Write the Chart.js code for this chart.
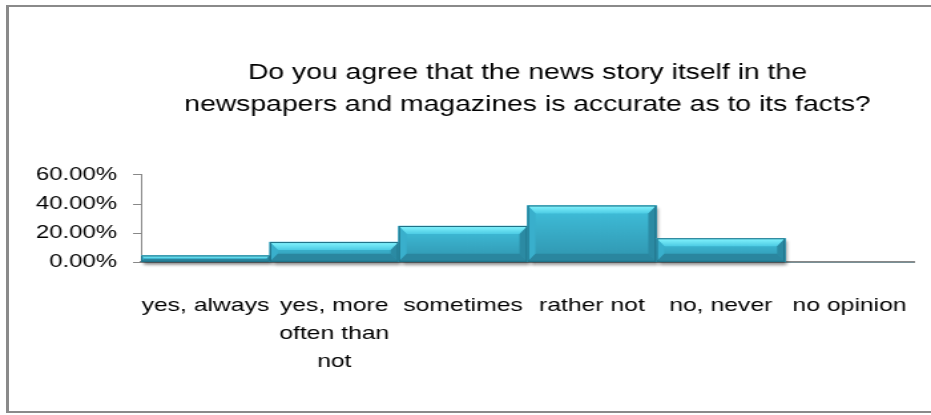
<!DOCTYPE html>
<html>
<head>
<meta charset="utf-8">
<script src="https://cdn.jsdelivr.net/npm/chart.js@4.4.1/dist/chart.umd.min.js"></script>
<style>
    html, body { margin: 0; padding: 0; background: #fff; overflow: hidden; }
    .frame {
        position: absolute;
        left: 6px; top: 5px;
        width: 940px; height: 404px;
        border-left: 3px solid #8a8a8a;
        border-top: 2px solid #8a8a8a;
        border-bottom: 2px solid #8a8a8a;
    }
    /* the chart is laid out narrow and widened to the full page */
    #chart-wrap {
        position: absolute; left: 0; top: 0;
        width: 700px; height: 415px;
        transform: scaleX(1.33); transform-origin: 0 0;
    }
</style>
</head>
<body>
<div class="frame"></div>
<div id="chart-wrap"><canvas id="newsChart" width="700" height="415"></canvas></div>
<script>
const categories = ['yes, always', ['yes, more', 'often than', 'not'], 'sometimes', 'rather not', 'no, never', 'no opinion'];
const percentages = [4.7, 13.9, 24.9, 39.0, 16.5, 0];
const yTicks = [0, 20, 40, 60];
const titleLines = ['Do you agree that the news story itself in the', 'newspapers and magazines is accurate as to its facts?'];

const FONT = '"Liberation Sans", Arial, sans-serif';

// grey drop shadow behind each bar
const barShadow = {
    id: 'barShadow',
    beforeDatasetsDraw(chart) {
        const ctx = chart.ctx;
        ctx.save();
        ctx.shadowColor = 'rgba(0,0,0,0.45)';
        ctx.shadowBlur = 3;
        ctx.shadowOffsetX = 2;
        ctx.shadowOffsetY = 3;
        ctx.fillStyle = '#2f93ad';
        chart.getDatasetMeta(0).data.forEach(bar => {
            const h = bar.base - bar.y;
            if (h <= 0) return;
            ctx.fillRect(bar.x - bar.width / 2, bar.y, bar.width, h);
        });
        ctx.restore();
    }
};

// bevelled edges on top of the flat bar fill
const barBevel = {
    id: 'barBevel',
    afterDatasetsDraw(chart) {
        const ctx = chart.ctx;
        ctx.save();
        chart.getDatasetMeta(0).data.forEach(bar => {
            const l = bar.x - bar.width / 2, r = bar.x + bar.width / 2;
            const t = bar.y, btm = bar.base;
            const h = btm - t;
            if (h <= 0) return;
            const b = Math.min(8, h / 2);
            const bx = b * 0.75;

            const body = ctx.createLinearGradient(0, t, 0, btm);
            body.addColorStop(0, '#40c0dc');
            body.addColorStop(1, '#2f94ae');
            ctx.fillStyle = body;
            ctx.fillRect(l, t, r - l, h);

            const topG = ctx.createLinearGradient(0, t, 0, t + b);
            topG.addColorStop(0, '#86f6ff');
            topG.addColorStop(1, '#4ccbe4');
            ctx.fillStyle = topG;
            ctx.beginPath();
            ctx.moveTo(l, t); ctx.lineTo(r, t); ctx.lineTo(r - bx, t + b); ctx.lineTo(l + bx, t + b);
            ctx.closePath(); ctx.fill();

            ctx.fillStyle = '#39afcc';
            ctx.beginPath();
            ctx.moveTo(l, t); ctx.lineTo(l + bx, t + b); ctx.lineTo(l + bx, btm - b); ctx.lineTo(l, btm);
            ctx.closePath(); ctx.fill();

            ctx.fillStyle = '#2b8aa3';
            ctx.beginPath();
            ctx.moveTo(r, t); ctx.lineTo(r - bx, t + b); ctx.lineTo(r - bx, btm - b); ctx.lineTo(r, btm);
            ctx.closePath(); ctx.fill();

            ctx.fillStyle = '#2a869f';
            ctx.beginPath();
            ctx.moveTo(l, btm); ctx.lineTo(l + bx, btm - b); ctx.lineTo(r - bx, btm - b); ctx.lineTo(r, btm);
            ctx.closePath(); ctx.fill();

            ctx.strokeStyle = '#1e6d83';
            ctx.lineWidth = 1;
            ctx.strokeRect(l + 0.5, t + 0.5, r - l - 1, h - 1);
        });
        ctx.restore();
    }
};

const ctx = document.getElementById('newsChart').getContext('2d');
new Chart(ctx, {
    type: 'bar',
    data: {
        labels: categories,
        datasets: [{
            data: percentages,
            backgroundColor: '#3bb3d3',
            borderWidth: 0,
            categoryPercentage: 1,
            barPercentage: 1
        }]
    },
    options: {
        responsive: false,
        animation: false,
        devicePixelRatio: 1,
        layout: { padding: { left: 0, right: 12.8, top: 0, bottom: 39 } },
        plugins: {
            legend: { display: false },
            tooltip: { enabled: false },
            title: {
                display: true,
                // centre the title over the plot area only
                fullSize: false,
                text: titleLines,
                color: '#000',
                font: { family: FONT, size: 21.3, weight: 'normal', lineHeight: 1.5 },
                padding: { top: 57, bottom: 54 }
            }
        },
        scales: {
            x: {
                // invisible tick marks give the gap under the axis without side padding
                grid: { display: true, drawOnChartArea: false, drawTicks: true, tickLength: 30, color: 'rgba(0,0,0,0)' },
                border: { display: true, color: '#888', width: 2 },
                ticks: {
                    color: '#000',
                    maxRotation: 0,
                    autoSkip: false,
                    padding: 0,
                    font: { family: FONT, size: 18.6, lineHeight: 1.5 }
                }
            },
            y: {
                min: 0,
                max: 60,
                afterBuildTicks: scale => { scale.ticks = yTicks.map(v => ({ value: v })); },
                afterFit: scale => { scale.width = 106; },
                grid: { drawOnChartArea: false, drawTicks: true, tickLength: 6, color: '#888' },
                border: { display: true, color: '#888', width: 1 },
                ticks: {
                    color: '#000',
                    padding: 12,
                    font: { family: FONT, size: 18 },
                    callback: v => v.toFixed(2) + '%'
                }
            }
        }
    },
    plugins: [barShadow, barBevel]
});
</script>
</body>
</html>
